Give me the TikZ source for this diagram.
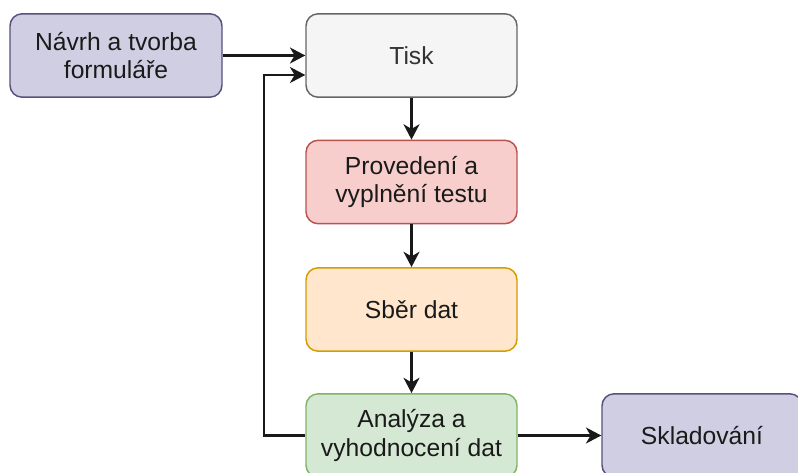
\documentclass[tikz,border=0pt]{standalone}
\usepackage{fontspec}
\setmainfont{Liberation Sans}
\usetikzlibrary{arrows.meta,calc}
\definecolor{purpF}{HTML}{D0CEE2}\definecolor{purpD}{HTML}{56517E}
\definecolor{grayF}{HTML}{F5F5F5}\definecolor{grayD}{HTML}{666666}
\definecolor{redF}{HTML}{F8CECC}\definecolor{redD}{HTML}{B85450}
\definecolor{orF}{HTML}{FFE6CC}\definecolor{orD}{HTML}{D79B00}
\definecolor{grF}{HTML}{D5E8D4}\definecolor{grD}{HTML}{82B366}
\definecolor{txt}{HTML}{1A1A1A}
\tikzset{
  box/.style={draw, rounded corners=9pt, line width=1.1pt, minimum width=158.25pt, minimum height=62.5pt,
    inner sep=0pt, align=center, text=txt, font=\fontsize{18.5pt}{21.5pt}\selectfont},
  arr/.style={line width=1.6pt, draw=black!90, -{Stealth[length=11.5pt,width=12pt,inset=3.5pt]}},
}
\begin{document}
\begin{tikzpicture}[x=0.75pt,y=-0.75pt]
\useasboundingbox (0,0) rectangle (798,473);
\clip (0,0) rectangle (798,473);
\fill[white] (0,0) rectangle (798,473);
\node[box, fill=purpF, draw=purpD, minimum width=159pt] (nav) at (116,55.5) {Návrh a tvorba\\formuláře};
\node[box, fill=grayF, draw=grayD, text=black!80] (tisk) at (411.5,55.5) {Tisk};
\node[box, fill=redF, draw=redD] (prov) at (411.5,182) {Provedení a\\vyplnění testu};
\node[box, fill=orF, draw=orD] (sber) at (411.5,309.5) {Sběr dat};
\node[box, fill=grF, draw=grD] (ana) at (411.5,435.5) {Analýza a\\vyhodnocení dat};
\node[box, fill=purpF, draw=purpD, minimum width=150pt] (skl) at (702,435.5) {Skladování};
\coordinate (lp) at (264,75);
\draw[arr] (nav.east) -- (tisk.west);
\draw[arr] (tisk.south) -- (prov.north);
\draw[arr] (prov.south) -- (sber.north);
\draw[arr] (sber.south) -- (ana.north);
\draw[arr] (ana.east) -- (skl.west);
\draw[arr] (ana.west) -| (lp) -- (tisk.west |- lp);
\end{tikzpicture}
\end{document}
